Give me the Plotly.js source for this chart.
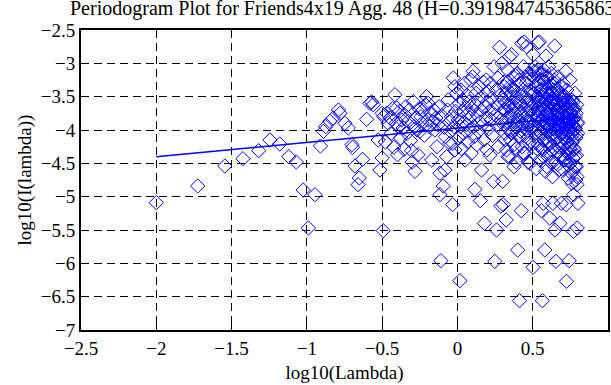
<!DOCTYPE html>
<html>
<head>
<meta charset="utf-8">
<script src="https://cdn.plot.ly/plotly-3.0.1.min.js"></script>
<style>html,body{margin:0;padding:0;background:#fff;}#chart{width:611px;height:385px;}</style>
</head>
<body>
<div id="chart"></div>
<script>
// Low frequencies (x < -0.5)
var lowX = [-2.00,-1.725,-1.545,-1.425,-1.32,-1.245,-1.18,-1.12,-1.07,-1.024,-0.99,-0.946,-0.91,-0.89,-0.875,-0.847,-0.825,-0.79,-0.78,-0.747,-0.725,-0.70,-0.696,-0.68,-0.66,-0.652,-0.63,-0.603,-0.581,-0.57,-0.56,-0.526,-0.515,-0.50,-0.50,-0.493];
var lowY = [-5.09,-4.84,-4.54,-4.43,-4.31,-4.15,-4.21,-4.40,-4.48,-4.90,-5.47,-4.97,-4.24,-4.02,-3.95,-3.87,-3.82,-3.70,-3.75,-3.90,-3.97,-4.22,-4.26,-4.54,-4.82,-4.72,-4.44,-3.84,-3.60,-3.58,-3.62,-4.15,-4.60,-4.42,-3.75,-5.51];
// Middle frequencies (-0.5 .. 0)
var midX = [-0.490,-0.478,-0.470,-0.460,-0.448,-0.440,-0.430,-0.422,-0.415,-0.408,-0.404,-0.398,-0.393,-0.385,-0.378,-0.370,-0.360,-0.355,-0.348,-0.342,-0.335,-0.327,-0.320,-0.312,-0.305,-0.300,-0.293,-0.288,-0.282,-0.275,-0.268,-0.262,-0.255,-0.249,-0.242,-0.235,-0.227,-0.220,-0.212,-0.205,-0.198,-0.194,-0.186,-0.178,-0.171,-0.164,-0.157,-0.150,-0.143,-0.136,-0.129,-0.122,-0.116,-0.116,-0.110,-0.105,-0.094,-0.088,-0.083,-0.080,-0.072,-0.066,-0.061,-0.054,-0.050,-0.047,-0.040,-0.032,-0.030,-0.027,-0.022,-0.017,-0.017,-0.012,-0.005];
var midY = [-3.80,-4.18,-3.75,-3.90,-3.82,-4.05,-3.68,-4.26,-3.47,-3.90,-3.67,-4.37,-3.95,-3.72,-4.12,-3.85,-3.97,-4.29,-3.78,-3.65,-4.05,-3.87,-3.70,-4.16,-4.31,-4.48,-3.575,-3.95,-4.62,-3.82,-4.00,-4.37,-3.68,-4.02,-3.80,-3.90,-3.70,-4.08,-3.62,-3.50,-3.85,-3.60,-3.95,-3.76,-4.45,-3.88,-3.70,-4.00,-3.82,-4.25,-3.92,-3.65,-4.65,-4.97,-5.96,-3.78,-4.84,-3.96,-4.60,-4.10,-4.40,-3.70,-3.55,-3.88,-4.20,-4.02,-3.80,-5.12,-4.20,-3.22,-3.95,-3.35,-4.30,-3.72,-3.45];
// Higher frequencies (0 .. 0.5)
var highX = [0.004,0.008,0.012,0.016,0.020,0.024,0.028,0.032,0.036,0.040,
0.044,0.048,0.052,0.056,0.060,0.064,0.068,0.072,0.076,0.080,
0.084,0.088,0.092,0.096,0.100,0.104,0.108,0.112,0.116,0.120,
0.124,0.128,0.132,0.136,0.140,0.144,0.148,0.152,0.156,0.160,
0.164,0.168,0.172,0.176,0.180,0.184,0.188,0.192,0.196,0.200,
0.204,0.208,0.212,0.216,0.220,0.224,0.228,0.232,0.236,0.240,
0.244,0.248,0.252,0.256,0.260,0.264,0.268,0.272,0.276,0.280,
0.284,0.288,0.292,0.296,0.300,0.304,0.308,0.312,0.316,0.320,
0.324,0.328,0.332,0.336,0.340,0.344,0.348,0.352,0.356,0.360,
0.364,0.368,0.372,0.376,0.380,0.384,0.388,0.392,0.396,0.400,
0.404,0.408,0.412,0.416,0.420,0.424,0.428,0.432,0.436,0.440,
0.444,0.448,0.452,0.456,0.460,0.464,0.468,0.472,0.476,0.480,
0.484,0.488,0.492,0.496];
var highY = [-3.85,-4.12,-3.60,-6.26,-3.95,-3.40,-4.28,-3.72,-3.55,-4.05,
-3.88,-3.30,-4.45,-3.66,-3.92,-3.48,-4.18,-3.75,-3.58,-4.00,
-3.82,-3.25,-4.35,-3.68,-3.20,-3.12,-3.95,-4.10,-4.89,-3.62,
-3.45,-4.22,-3.78,-3.55,-4.02,-3.35,-3.88,-5.06,-3.70,-4.60,
-3.50,-3.92,-3.28,-4.15,-5.40,-3.65,-3.82,-3.25,-4.30,-3.58,
-3.42,-3.98,-3.72,-4.38,-3.30,-3.85,-3.52,-4.08,-3.68,-4.77,
-3.05,-5.97,-3.78,-3.40,-5.50,-3.92,-3.22,-4.25,-3.62,-2.76,
-3.48,-5.14,-3.85,-3.00,-4.77,-5.12,-3.70,-3.35,-4.05,-3.58,
-5.35,-3.90,-3.28,-4.40,-3.65,-2.90,-3.80,-4.15,-3.45,-2.87,
-3.72,-4.02,-3.38,-4.55,-3.60,-3.18,-3.95,-4.28,-3.50,-5.80,
-3.85,-3.25,-6.56,-4.10,-3.62,-5.21,-2.70,-3.92,-3.40,-4.35,
-2.68,-3.75,-4.05,-3.30,-2.75,-3.88,-4.48,-3.55,-3.15,-4.20,
-3.68,-3.42,-4.00,-3.10];
// Extra points in 0.3 .. 0.54
var upperX = [0.302,0.306,0.310,0.314,0.318,0.322,0.326,0.330,0.334,0.338,
0.342,0.346,0.350,0.354,0.358,0.362,0.366,0.370,0.374,0.378,
0.382,0.386,0.390,0.394,0.398,0.402,0.406,0.410,0.414,0.418,
0.422,0.426,0.430,0.434,0.438,0.442,0.446,0.450,0.454,0.458,
0.462,0.466,0.470,0.474,0.478,0.482,0.486,0.490,0.494,0.498,
0.502,0.506,0.510,0.514,0.518,0.522,0.526,0.530,0.534,0.538];
var upperY = [-3.55,-3.92,-3.28,-4.15,-3.70,-3.45,-4.30,-3.82,-3.10,-3.98,
-3.62,-4.40,-3.35,-3.78,-4.05,-3.50,-3.88,-3.20,-4.22,-3.65,
-3.42,-3.95,-4.48,-3.72,-3.15,-3.85,-4.10,-3.58,-3.30,-4.02,
-3.75,-3.48,-4.25,-3.90,-3.05,-3.68,-4.35,-3.82,-3.52,-3.98,
-3.25,-4.12,-3.62,-3.88,-3.40,-4.50,-3.72,-3.18,-3.95,-3.60,
-4.20,-3.45,-3.85,-3.12,-4.05,-3.70,-3.35,-4.28,-3.80,-3.55];
// Top frequencies (0.5 .. 0.8)
var topX = [0.502,0.504,0.506,0.508,0.510,0.512,0.514,0.516,0.518,0.520,
0.522,0.524,0.526,0.528,0.530,0.532,0.534,0.536,0.538,0.540,
0.542,0.544,0.546,0.548,0.550,0.552,0.554,0.556,0.558,0.560,
0.562,0.564,0.566,0.568,0.570,0.572,0.574,0.576,0.578,0.580,
0.582,0.584,0.586,0.588,0.590,0.592,0.594,0.596,0.598,0.600,
0.602,0.604,0.606,0.608,0.610,0.612,0.614,0.616,0.618,0.620,
0.622,0.624,0.626,0.628,0.630,0.632,0.634,0.636,0.638,0.640,
0.642,0.644,0.646,0.648,0.650,0.652,0.654,0.656,0.658,0.660,
0.662,0.664,0.666,0.668,0.670,0.672,0.674,0.676,0.678,0.680,
0.682,0.684,0.686,0.688,0.690,0.692,0.694,0.696,0.698,0.700,
0.702,0.704,0.706,0.708,0.710,0.712,0.714,0.716,0.718,0.720,
0.722,0.724,0.726,0.728,0.730,0.732,0.734,0.736,0.738,0.740,
0.742,0.744,0.746,0.748,0.750,0.752,0.754,0.756,0.758,0.760,
0.762,0.764,0.766,0.768,0.770,0.772,0.774,0.776,0.778,0.780,
0.782,0.784,0.786,0.788,0.790,0.792,0.794,0.796,0.798,0.800];
var topY = [-6.06,-2.87,-3.45,-3.92,-3.20,-4.35,-3.60,-3.05,-4.10,-3.75,
-3.35,-4.58,-3.82,-3.12,-3.98,-3.50,-2.69,-4.22,-3.68,-3.28,
-3.90,-2.68,-3.55,-4.45,-3.15,-3.72,-4.05,-3.40,-5.21,-3.85,
-3.25,-6.56,-3.62,-4.30,-5.10,-3.48,-3.95,-3.10,-4.15,-5.80,
-3.70,-3.35,-4.62,-2.89,-3.80,-3.55,-4.02,-3.22,-3.90,-4.40,
-3.45,-3.68,-3.05,-4.20,-3.78,-5.32,-3.58,-3.95,-3.30,-4.48,
-3.72,-3.15,-4.08,-3.52,-3.88,-4.70,-5.10,-3.40,-3.98,-3.62,
-3.25,-4.28,-2.74,-5.50,-3.85,-3.55,-5.97,-4.12,-3.70,-3.38,
-4.00,-3.60,-4.52,-3.20,-3.92,-3.75,-4.25,-3.48,-3.82,-5.40,
-3.65,-4.15,-3.95,-3.35,-5.10,-4.38,-3.78,-3.55,-4.05,-3.88,
-3.30,-4.60,-3.72,-3.98,-4.22,-3.62,-3.85,-4.45,-3.50,-3.12,
-5.12,-6.27,-3.92,-4.10,-3.70,-4.35,-3.82,-4.72,-3.58,-4.00,
-5.96,-3.88,-3.25,-4.28,-3.75,-4.50,-3.65,-4.05,-3.92,-4.80,
-3.55,-4.18,-3.85,-4.62,-5.52,-4.97,-3.70,-4.30,-3.98,-3.45,
-4.40,-3.80,-4.75,-4.08,-4.55,-3.62,-4.82,-5.47,-3.90,-5.10];
// Dense core (0.55 .. 0.8)
var coreX = [0.551,0.5535,0.556,0.5585,0.561,0.5635,0.566,0.5685,0.571,0.5735,
0.576,0.5785,0.581,0.5835,0.586,0.5885,0.591,0.5935,0.596,0.5985,
0.601,0.6035,0.606,0.6085,0.611,0.6135,0.616,0.6185,0.621,0.6235,
0.626,0.6285,0.631,0.6335,0.636,0.6385,0.641,0.6435,0.646,0.6485,
0.651,0.6535,0.656,0.6585,0.661,0.6635,0.666,0.6685,0.671,0.6735,
0.676,0.6785,0.681,0.6835,0.686,0.6885,0.691,0.6935,0.696,0.6985,
0.701,0.7035,0.706,0.7085,0.711,0.7135,0.716,0.7185,0.721,0.7235,
0.726,0.7285,0.731,0.7335,0.736,0.7385,0.741,0.7435,0.746,0.7485,
0.751,0.7535,0.756,0.7585,0.761,0.7635,0.766,0.7685,0.771,0.7735,
0.776,0.7785,0.781,0.7835,0.786,0.7885,0.791,0.7935,0.796,0.7985];
var coreY = [-3.62,-4.05,-3.38,-3.85,-4.28,-3.50,-3.15,-3.95,-3.70,-4.40,
-3.28,-3.88,-4.12,-3.58,-3.42,-4.00,-3.75,-4.55,-3.20,-3.92,
-3.66,-4.18,-3.48,-3.80,-3.35,-4.35,-3.90,-3.60,-4.08,-3.72,
-3.45,-4.25,-3.85,-3.55,-4.48,-3.98,-3.30,-3.78,-4.15,-3.62,
-3.88,-4.02,-3.52,-4.32,-3.70,-3.40,-4.10,-3.82,-3.95,-4.60,
-3.58,-3.92,-4.20,-3.68,-3.45,-4.38,-3.85,-4.05,-3.75,-3.50,
-4.25,-3.90,-3.62,-4.45,-3.80,-4.12,-3.55,-3.98,-4.30,-3.72,
-3.40,-4.18,-3.88,-4.52,-3.65,-4.02,-3.78,-4.35,-3.95,-3.60,
-4.22,-3.85,-4.65,-3.70,-4.08,-3.92,-4.42,-3.58,-4.15,-3.82,
-4.28,-3.68,-4.55,-3.98,-4.12,-3.75,-4.38,-4.70,-3.88,-4.05];
// Least-squares fit line
var fitX = [-2.0, 0.8];
var fitY = [-4.40, -3.80];

var titleText = 'Periodogram Plot for Friends4x19 Agg. 48 (H=0.391984745365863)';
var xTicks = [-2.5,-2,-1.5,-1,-0.5,0,0.5,1];
var yTicks = [-7,-6.5,-6,-5.5,-5,-4.5,-4,-3.5,-3,-2.5];

var allX = lowX.concat(midX, highX, upperX, topX, coreX);
var allY = lowY.concat(midY, highY, upperY, topY, coreY);

var serif = 'Liberation Serif, Times New Roman, serif';
function lab(v){return (v<0?'\u2212':'')+Math.abs(v);}
var axisCommon = {
  showgrid: true, gridcolor: '#000', gridwidth: 1, griddash: '8px,5px',
  zeroline: false, showline: true, linecolor: '#000', linewidth: 2, mirror: 'ticks',
  ticks: 'inside', ticklen: 8, tickwidth: 1, tickcolor: '#000',
  tickfont: {family: serif, size: 19, color: '#000'},
  automargin: false
};
var layout = {
  width: 611, height: 385,
  margin: {l: 81, r: 3, t: 30, b: 55},
  paper_bgcolor: '#fff', plot_bgcolor: '#fff',
  showlegend: false,
  title: {text: titleText, font: {family: serif, size: 20, color: '#000'},
    xref: 'container', x: 70/611, xanchor: 'left', yref: 'container', y: 0.997, yanchor: 'top', pad: {t:0,b:0,l:0,r:0}},
  xaxis: Object.assign({}, axisCommon, {range: [-2.5, 1], tickvals: xTicks, ticktext: xTicks.map(lab),
    title: {text: 'log10(Lambda)', font: {family: serif, size: 19, color: '#000'}, standoff: 8}}),
  yaxis: Object.assign({}, axisCommon, {range: [-7, -2.5], tickvals: yTicks, ticktext: yTicks.map(lab),
    title: {text: 'log10(I(lambda))', font: {family: serif, size: 19, color: '#000'}, standoff: 4}})
};
var data = [
  {x: allX, y: allY, type: 'scatter', mode: 'markers',
   marker: {symbol: 'diamond-open', size: 11, color: '#0000ff', line: {width: 1, color: '#0000ff'}}},
  {x: fitX, y: fitY, type: 'scatter', mode: 'lines', line: {color: '#0000ff', width: 1.5}}
];
Plotly.newPlot('chart', data, layout, {staticPlot: true, displayModeBar: false});
</script>
</body>
</html>
